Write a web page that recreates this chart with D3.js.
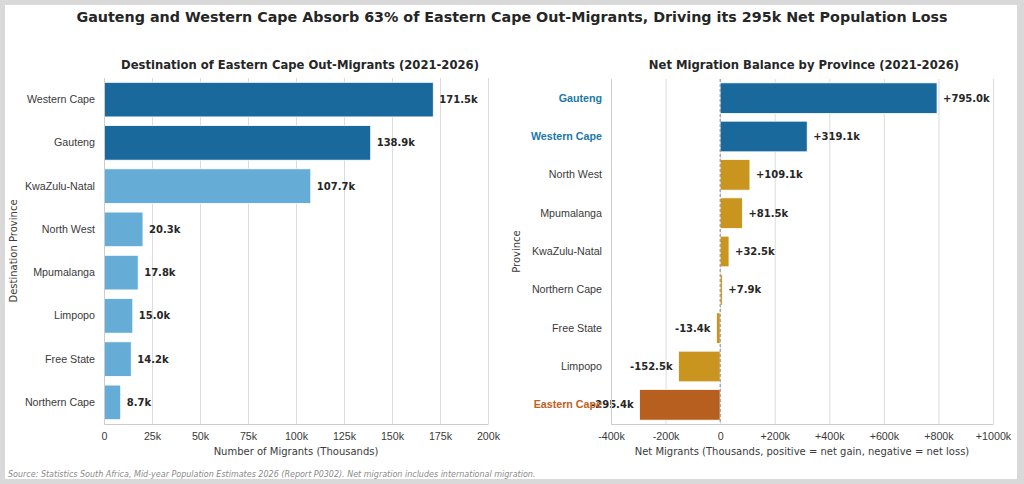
<!DOCTYPE html>
<html>
<head>
<meta charset="utf-8">
<script src="https://cdn.jsdelivr.net/npm/d3@7"></script>
<style>
  body { margin: 0; background: #d9d9d9; }
  svg { display: block; font-family: "DejaVu Sans", sans-serif; }
  .grid line { stroke: #dcdcdc; stroke-width: 1; }
  .grid path { display: none; }
  .tick text { fill: #3a3a3a; font-size: 10.7px; }
  .val { font-size: 10px; font-weight: bold; fill: #262626; }
</style>
</head>
<body>
<svg id="chart"></svg>
<script>
// left panel: where Eastern Cape out-migrants go (thousands)
var destNames = ["Western Cape", "Gauteng", "KwaZulu-Natal", "North West",
                 "Mpumalanga", "Limpopo", "Free State", "Northern Cape"];
var destValues = [171.5, 138.9, 107.7, 20.3, 17.8, 15.0, 14.2, 8.7];
var destTicks = [0, 25, 50, 75, 100, 125, 150, 175, 200];

// right panel: net migration balance (thousands)
var netNames = ["Gauteng", "Western Cape", "North West", "Mpumalanga", "KwaZulu-Natal",
                "Northern Cape", "Free State", "Limpopo", "Eastern Cape"];
var netValues = [795.0, 319.1, 109.1, 81.5, 32.5, 7.9, -13.4, -152.5, -295.4];
var netTicks = [-400, -200, 0, 200, 400, 600, 800, 1000];

var width = 1024;
var height = 484;

var darkBlue = "#1a699d";
var lightBlue = "#65acd7";
var gold = "#c9951f";
var rust = "#b65f1e";

function drawChart() {
  var svg = d3.select("#chart")
    .attr("width", width)
    .attr("height", height);

  svg.append("rect")
    .attr("x", 5).attr("y", 5)
    .attr("width", 1012).attr("height", 474)
    .attr("fill", "#ffffff");

  svg.append("text")
    .attr("x", 512).attr("y", 22)
    .attr("text-anchor", "middle")
    .style("font-size", "14.3px")
    .style("font-weight", "bold")
    .attr("fill", "#262626")
    .text("Gauteng and Western Cape Absorb 63% of Eastern Cape Out-Migrants, Driving its 295k Net Population Loss");

  svg.append("text")
    .attr("x", 8).attr("y", 477)
    .style("font-size", "8px")
    .style("font-style", "italic")
    .attr("fill", "#8a8a8a")
    .text("Source: Statistics South Africa, Mid-year Population Estimates 2026 (Report P0302). Net migration includes international migration.");

  drawLeft(svg);
  drawRight(svg);
}

function drawLeft(svg) {
  var left = 104, right = 488, top = 78, bottom = 424;

  var x = d3.scaleLinear().domain([0, 200]).range([left, right]);
  var y = d3.scaleBand().domain(destNames).range([top, bottom]).paddingInner(0.2).paddingOuter(0.1);

  var g = svg.append("g");

  g.append("g")
    .attr("class", "grid")
    .attr("transform", `translate(0,${bottom})`)
    .call(d3.axisBottom(x).tickValues(destTicks).tickSize(-(bottom - top)).tickFormat(""));

  g.selectAll(".bar")
    .data(destNames)
    .enter()
    .append("rect")
      .attr("x", x(0))
      .attr("y", d => y(d))
      .attr("height", y.bandwidth())
      .attr("width", (d, i) => x(destValues[i]) - x(0))
      .attr("fill", (d, i) => i < 2 ? darkBlue : lightBlue)
      .attr("stroke", "#ffffff")
      .attr("stroke-width", 0.8);

  g.selectAll(".val")
    .data(destNames)
    .enter()
    .append("text")
      .attr("class", "val")
      .attr("x", (d, i) => x(destValues[i]) + 6)
      .attr("y", d => y(d) + y.bandwidth() / 2)
      .attr("dy", "0.35em")
      .text((d, i) => destValues[i].toFixed(1) + "k");

  var xAxis = g.append("g")
    .attr("transform", `translate(0,${bottom})`)
    .call(d3.axisBottom(x).tickValues(destTicks).tickSize(0).tickPadding(8)
      .tickFormat(d => d === 0 ? "0" : d + "k"));
  xAxis.select(".domain").attr("stroke", "#cccccc");

  var yAxis = g.append("g")
    .attr("transform", `translate(${left},0)`)
    .call(d3.axisLeft(y).tickSize(0).tickPadding(9));
  yAxis.select(".domain").attr("stroke", "#cccccc");

  g.append("text")
    .attr("x", (left + right) / 2 + 4).attr("y", 69)
    .attr("text-anchor", "middle")
    .style("font-size", "11.6px")
    .style("font-weight", "bold")
    .attr("fill", "#262626")
    .text("Destination of Eastern Cape Out-Migrants (2021-2026)");

  g.append("text")
    .attr("x", (left + right) / 2).attr("y", 455)
    .attr("text-anchor", "middle")
    .style("font-size", "10px")
    .attr("fill", "#3a3a3a")
    .text("Number of Migrants (Thousands)");

  g.append("text")
    .attr("transform", `translate(17,${(top + bottom) / 2}) rotate(-90)`)
    .attr("text-anchor", "middle")
    .style("font-size", "10px")
    .attr("fill", "#3a3a3a")
    .text("Destination Province");
}

function drawRight(svg) {
  var left = 611, right = 993, top = 79, bottom = 424;

  var x = d3.scaleLinear().domain([-400, 1000]).range([left, right]);
  var y = d3.scaleBand().domain(netNames).range([top, bottom]).paddingInner(0.2).paddingOuter(0.1);

  var g = svg.append("g");

  g.append("g")
    .attr("class", "grid")
    .attr("transform", `translate(0,${bottom})`)
    .call(d3.axisBottom(x).tickValues(netTicks).tickSize(-(bottom - top)).tickFormat(""));

  g.selectAll(".bar")
    .data(netNames)
    .enter()
    .append("rect")
      .attr("x", (d, i) => x(Math.min(0, netValues[i])))
      .attr("y", d => y(d))
      .attr("height", y.bandwidth())
      .attr("width", (d, i) => Math.abs(x(netValues[i]) - x(0)))
      .attr("fill", d => d === "Eastern Cape" ? rust
        : (d === "Gauteng" || d === "Western Cape") ? darkBlue : gold)
      .attr("stroke", "#ffffff")
      .attr("stroke-width", 0.8);

  g.append("line")
    .attr("x1", x(0)).attr("x2", x(0))
    .attr("y1", top).attr("y2", bottom)
    .attr("stroke", "#8a8a8a")
    .attr("stroke-width", 1)
    .attr("stroke-dasharray", "3,2");

  g.selectAll(".val")
    .data(netNames)
    .enter()
    .append("text")
      .attr("class", "val")
      .attr("x", (d, i) => netValues[i] >= 0 ? x(netValues[i]) + 6 : x(netValues[i]) - 6)
      .attr("y", d => y(d) + y.bandwidth() / 2)
      .attr("dy", "0.35em")
      .attr("text-anchor", (d, i) => netValues[i] >= 0 ? "start" : "end")
      .text((d, i) => (netValues[i] >= 0 ? "+" : "") + netValues[i].toFixed(1) + "k");

  var xAxis = g.append("g")
    .attr("transform", `translate(0,${bottom})`)
    .call(d3.axisBottom(x).tickValues(netTicks).tickSize(0).tickPadding(8)
      .tickFormat(d => d === 0 ? "0" : (d > 0 ? "+" : "") + d + "k"));
  xAxis.select(".domain").attr("stroke", "#cccccc");

  var yAxis = g.append("g")
    .attr("transform", `translate(${left},0)`)
    .call(d3.axisLeft(y).tickSize(0).tickPadding(9));
  yAxis.select(".domain").attr("stroke", "#cccccc");
  yAxis.selectAll(".tick text")
    .style("font-weight", d => (d === "Gauteng" || d === "Western Cape" || d === "Eastern Cape") ? "bold" : "normal")
    .style("fill", d => d === "Eastern Cape" ? "#c0611f"
      : (d === "Gauteng" || d === "Western Cape") ? "#2078a8" : "#3a3a3a");

  g.append("text")
    .attr("x", (left + right) / 2 + 2).attr("y", 69)
    .attr("text-anchor", "middle")
    .style("font-size", "11.6px")
    .style("font-weight", "bold")
    .attr("fill", "#262626")
    .text("Net Migration Balance by Province (2021-2026)");

  g.append("text")
    .attr("x", (left + right) / 2).attr("y", 455)
    .attr("text-anchor", "middle")
    .style("font-size", "10px")
    .attr("fill", "#3a3a3a")
    .text("Net Migrants (Thousands, positive = net gain, negative = net loss)");

  g.append("text")
    .attr("transform", `translate(520,${(top + bottom) / 2}) rotate(-90)`)
    .attr("text-anchor", "middle")
    .style("font-size", "10px")
    .attr("fill", "#3a3a3a")
    .text("Province");
}

drawChart();
</script>
</body>
</html>
